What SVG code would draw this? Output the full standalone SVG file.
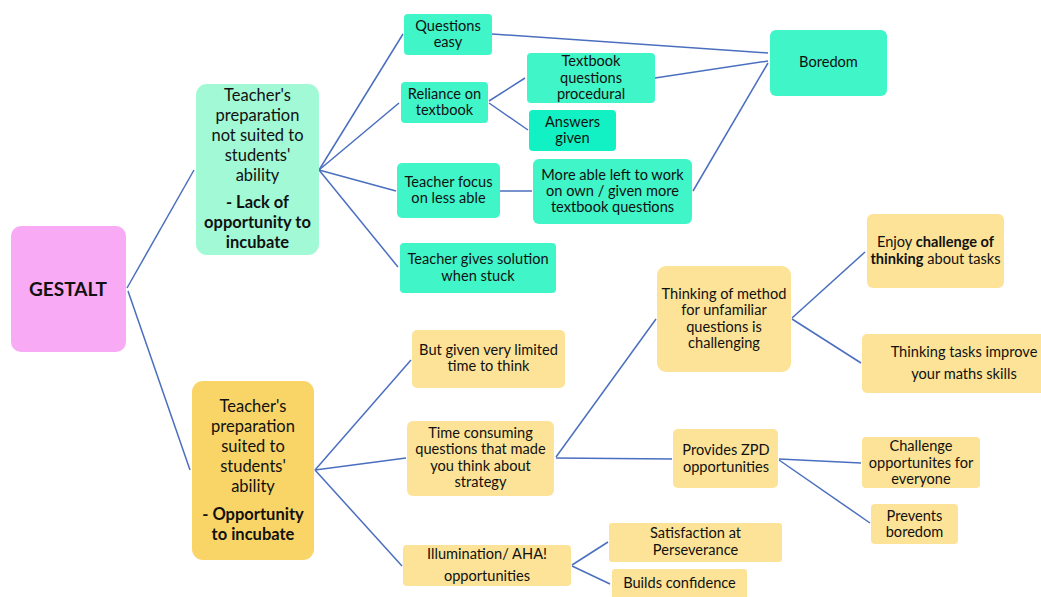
<svg xmlns="http://www.w3.org/2000/svg" width="1041" height="597" viewBox="0 0 1041 597">
  <style>
    .t { font-family: Lato, "Liberation Sans", sans-serif; font-size: 14.6px; fill: #111; text-anchor: middle; }
    .big { font-size: 16.5px; }
    .title { font-size: 19px; }
    .b { font-weight: bold; }
    .teal { fill: #40F5C8; }
    .teal2 { fill: #12F1C4; }
    .mint { fill: #A2F9D6; }
    .yel { fill: #FDE397; }
    .gold { fill: #F9D466; }
    .pink { fill: #F9AAF4; }
    .edge { fill: none; stroke: #4A6FBF; stroke-width: 1.5; }
  </style>
  <rect width="1041" height="597" fill="#fff"/>

  <!-- connectors -->
  <g id="connectors" class="edge">
    <path d="M127,288 L194,170"/>
    <path d="M128,291 L190,470"/>
    <path d="M319,170 L403,34"/>
    <path d="M319,170 L399,103"/>
    <path d="M319,170 L396,191"/>
    <path d="M319,170 L398,267"/>
    <path d="M489,101 L525,78"/>
    <path d="M489,103 L528,130"/>
    <path d="M500,191 L532,191"/>
    <path d="M492,34 L768,53"/>
    <path d="M655,78 L768,61"/>
    <path d="M693,191 L768,63"/>
    <path d="M315,470 L411,360"/>
    <path d="M315,470 L406,458"/>
    <path d="M315,470 L402,566"/>
    <path d="M556,457 L656,319"/>
    <path d="M556,458 L672,459"/>
    <path d="M572,565 L608,542"/>
    <path d="M572,566 L610,584"/>
    <path d="M792,318 L865,252"/>
    <path d="M792,319 L861,363"/>
    <path d="M779,459 L861,463"/>
    <path d="M779,460 L870,523"/>
  </g>

  <g id="gestalt">
    <rect class="pink" x="11" y="226" width="115" height="126" rx="10"/>
    <text class="t title b" x="68" y="296">GESTALT</text>
  </g>

  <g id="prep-not-suited">
    <rect class="mint" x="196" y="84" width="123" height="171" rx="11"/>
    <text class="t big" x="257.5" y="101">Teacher's</text>
    <text class="t big" x="257.5" y="121">preparation</text>
    <text class="t big" x="257.5" y="141">not suited to</text>
    <text class="t big" x="257.5" y="161">students'</text>
    <text class="t big" x="257.5" y="181">ability</text>
    <text class="t big b" x="257.5" y="208">- Lack of</text>
    <text class="t big b" x="257.5" y="228">opportunity to</text>
    <text class="t big b" x="257.5" y="248">incubate</text>
  </g>

  <g id="questions-easy">
    <rect class="teal" x="404" y="14" width="88" height="41" rx="4"/>
    <text class="t" x="448" y="31">Questions</text>
    <text class="t" x="448" y="47">easy</text>
  </g>

  <g id="reliance">
    <rect class="teal" x="401" y="82" width="87" height="41" rx="4"/>
    <text class="t" x="444.5" y="99">Reliance on</text>
    <text class="t" x="444.5" y="115">textbook</text>
  </g>

  <g id="textbook-procedural">
    <rect class="teal" x="527" y="53" width="128" height="50" rx="4"/>
    <text class="t" x="591" y="66">Textbook</text>
    <text class="t" x="591" y="83">questions</text>
    <text class="t" x="591" y="99">procedural</text>
  </g>

  <g id="answers-given">
    <rect class="teal2" x="529" y="110" width="87" height="41" rx="4"/>
    <text class="t" x="572.5" y="127">Answers</text>
    <text class="t" x="572.5" y="143">given</text>
  </g>

  <g id="teacher-focus">
    <rect class="teal" x="397" y="163" width="103" height="55" rx="5"/>
    <text class="t" x="448.5" y="187">Teacher focus</text>
    <text class="t" x="448.5" y="203">on less able</text>
  </g>

  <g id="more-able">
    <rect class="teal" x="533" y="159" width="159" height="65" rx="6"/>
    <text class="t" x="612.5" y="180">More able left to work</text>
    <text class="t" x="612.5" y="196">on own / given more</text>
    <text class="t" x="612.5" y="212">textbook questions</text>
  </g>

  <g id="boredom">
    <rect class="teal" x="770" y="30" width="117" height="66" rx="6"/>
    <text class="t" x="828.5" y="67">Boredom</text>
  </g>

  <g id="teacher-solution">
    <rect class="teal" x="400" y="243" width="156" height="50" rx="4"/>
    <text class="t" x="478" y="264">Teacher gives solution</text>
    <text class="t" x="478" y="281">when stuck</text>
  </g>

  <g id="prep-suited">
    <rect class="gold" x="192" y="381" width="122" height="179" rx="11"/>
    <text class="t big" x="253" y="412">Teacher's</text>
    <text class="t big" x="253" y="432">preparation</text>
    <text class="t big" x="253" y="452">suited to</text>
    <text class="t big" x="253" y="472">students'</text>
    <text class="t big" x="253" y="492">ability</text>
    <text class="t big b" x="253" y="520">- Opportunity</text>
    <text class="t big b" x="253" y="540">to incubate</text>
  </g>

  <g id="limited-time">
    <rect class="yel" x="412" y="330" width="153" height="58" rx="5"/>
    <text class="t" x="488.5" y="355">But given very limited</text>
    <text class="t" x="488.5" y="371">time to think</text>
  </g>

  <g id="time-consuming">
    <rect class="yel" x="407" y="421" width="147" height="75" rx="6"/>
    <text class="t" x="480.5" y="438">Time consuming</text>
    <text class="t" x="480.5" y="454">questions that made</text>
    <text class="t" x="480.5" y="471">you think about</text>
    <text class="t" x="480.5" y="487">strategy</text>
  </g>

  <g id="illumination">
    <rect class="yel" x="403" y="545" width="168" height="41" rx="4"/>
    <text class="t" x="487" y="559">Illumination/ AHA!</text>
    <text class="t" x="487" y="581">opportunities</text>
  </g>

  <g id="satisfaction">
    <rect class="yel" x="609" y="523" width="173" height="39" rx="3"/>
    <text class="t" x="695.5" y="538">Satisfaction at</text>
    <text class="t" x="695.5" y="555">Perseverance</text>
  </g>

  <g id="confidence">
    <rect class="yel" x="612" y="569" width="135" height="32" rx="3"/>
    <text class="t" x="679.5" y="588">Builds confidence</text>
  </g>

  <g id="thinking-method">
    <rect class="yel" x="657" y="266" width="134" height="106" rx="9"/>
    <text class="t" x="724" y="299">Thinking of method</text>
    <text class="t" x="724" y="315">for unfamiliar</text>
    <text class="t" x="724" y="332">questions is</text>
    <text class="t" x="724" y="348">challenging</text>
  </g>

  <g id="zpd">
    <rect class="yel" x="673" y="429" width="105" height="59" rx="5"/>
    <text class="t" x="726" y="455">Provides ZPD</text>
    <text class="t" x="726" y="472">opportunities</text>
  </g>

  <g id="enjoy-challenge">
    <rect class="yel" x="867" y="214" width="137" height="74" rx="6"/>
    <text class="t" x="935.5" y="247">Enjoy <tspan class="b">challenge of</tspan></text>
    <text class="t" x="935.5" y="264"><tspan class="b">thinking</tspan> about tasks</text>
  </g>

  <g id="thinking-tasks">
    <rect class="yel" x="862" y="334" width="190" height="59" rx="5"/>
    <text class="t" x="964" y="357">Thinking tasks improve</text>
    <text class="t" x="964" y="379">your maths skills</text>
  </g>

  <g id="challenge-everyone">
    <rect class="yel" x="862" y="437" width="118" height="51" rx="4"/>
    <text class="t" x="921" y="451">Challenge</text>
    <text class="t" x="921" y="468">opportunites for</text>
    <text class="t" x="921" y="484">everyone</text>
  </g>

  <g id="prevents-boredom">
    <rect class="yel" x="871" y="504" width="87" height="40" rx="4"/>
    <text class="t" x="914.5" y="521">Prevents</text>
    <text class="t" x="914.5" y="537">boredom</text>
  </g>
</svg>
